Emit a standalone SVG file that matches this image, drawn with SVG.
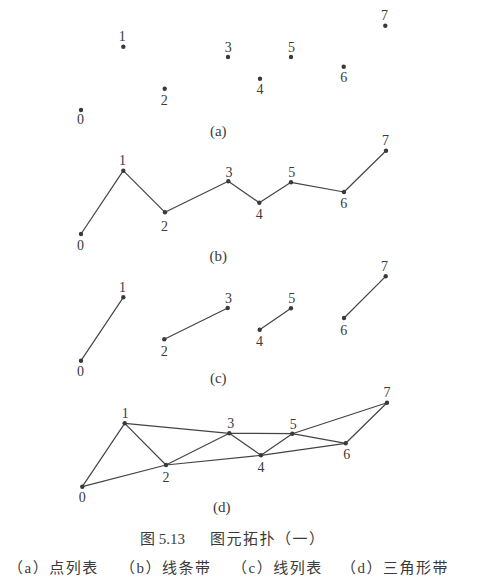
<svg xmlns="http://www.w3.org/2000/svg" width="481" height="588" viewBox="0 0 481 588">
<style>
.pt{fill:#3a3a3a}
.lb{font-family:"Liberation Serif","Noto Sans CJK SC",serif;font-size:14px;fill:#3a3a3a;text-anchor:middle}
.pl{font-family:"Liberation Serif","Noto Sans CJK SC",serif;font-size:15px;fill:#3a3a3a;text-anchor:middle}
.ln{stroke:#444;stroke-width:1.2;fill:none;stroke-linecap:round;stroke-linejoin:round}
.cap{font-family:"Liberation Serif","Noto Sans CJK SC",serif;font-size:15px;fill:#3a3a3a}
</style>
<rect width="481" height="588" fill="#fff"/>

<g id="connectors">
  <g id="conn-b">
    <polyline class="ln" points="81,234 123.3,170.7 165,212.3 228.3,181.3 259.3,202.7 291,182.3 344,192 386,150.7"/>
  </g>
  <g id="conn-c">
    <line class="ln" x1="81" y1="360.7" x2="123.3" y2="297.3"/>
    <line class="ln" x1="164.3" y1="339.3" x2="227.7" y2="308"/>
    <line class="ln" x1="259.7" y1="329.7" x2="291" y2="308.3"/>
    <line class="ln" x1="344" y1="318" x2="385.7" y2="276.3"/>
  </g>
  <g id="conn-d">
    <line class="ln" x1="82.3" y1="486.7" x2="124.7" y2="423.3"/>
    <line class="ln" x1="124.7" y1="423.3" x2="166" y2="465"/>
    <line class="ln" x1="82.3" y1="486.7" x2="166" y2="465"/>
    <line class="ln" x1="124.7" y1="423.3" x2="229.3" y2="433.3"/>
    <line class="ln" x1="166" y1="465" x2="229.3" y2="433.3"/>
    <line class="ln" x1="166" y1="465" x2="261" y2="455.3"/>
    <line class="ln" x1="229.3" y1="433.3" x2="261" y2="455.3"/>
    <line class="ln" x1="229.3" y1="433.3" x2="292.3" y2="433.7"/>
    <line class="ln" x1="261" y1="455.3" x2="292.3" y2="433.7"/>
    <line class="ln" x1="261" y1="455.3" x2="345.7" y2="443.3"/>
    <line class="ln" x1="292.3" y1="433.7" x2="345.7" y2="443.3"/>
    <line class="ln" x1="292.3" y1="433.7" x2="387" y2="402.7"/>
    <line class="ln" x1="345.7" y1="443.3" x2="387" y2="402.7"/>
  </g>
</g>

<!-- Panel (a) -->
<g id="a-p0"><circle class="pt" cx="81" cy="110" r="2.2"/><text class="lb" x="80.5" y="124">0</text></g>
<g id="a-p1"><circle class="pt" cx="123.3" cy="46.7" r="2.2"/><text class="lb" x="122.3" y="40.8">1</text></g>
<g id="a-p2"><circle class="pt" cx="164.7" cy="88.7" r="2.2"/><text class="lb" x="164.2" y="104.6">2</text></g>
<g id="a-p3"><circle class="pt" cx="228" cy="57" r="2.2"/><text class="lb" x="228.3" y="51.6">3</text></g>
<g id="a-p4"><circle class="pt" cx="260" cy="78.7" r="2.2"/><text class="lb" x="260" y="94">4</text></g>
<g id="a-p5"><circle class="pt" cx="291" cy="57" r="2.2"/><text class="lb" x="291.5" y="51.6">5</text></g>
<g id="a-p6"><circle class="pt" cx="343.7" cy="66.7" r="2.2"/><text class="lb" x="343.7" y="82">6</text></g>
<g id="a-p7"><circle class="pt" cx="385.3" cy="25.7" r="2.2"/><text class="lb" x="384.6" y="19.6">7</text></g>
<text class="pl" x="218.3" y="135.5">(a)</text>

<!-- Panel (b) -->
<g id="b-p0"><circle class="pt" cx="81" cy="234" r="2.2"/><text class="lb" x="80.5" y="250">0</text></g>
<g id="b-p1"><circle class="pt" cx="123.3" cy="170.7" r="2.2"/><text class="lb" x="122.5" y="165.3">1</text></g>
<g id="b-p2"><circle class="pt" cx="165" cy="212.3" r="2.2"/><text class="lb" x="164.4" y="230.6">2</text></g>
<g id="b-p3"><circle class="pt" cx="228.3" cy="181.3" r="2.2"/><text class="lb" x="229" y="176.6">3</text></g>
<g id="b-p4"><circle class="pt" cx="259.3" cy="202.7" r="2.2"/><text class="lb" x="259.3" y="219.3">4</text></g>
<g id="b-p5"><circle class="pt" cx="291" cy="182.3" r="2.2"/><text class="lb" x="291.7" y="177.3">5</text></g>
<g id="b-p6"><circle class="pt" cx="344" cy="192" r="2.2"/><text class="lb" x="343.7" y="208">6</text></g>
<g id="b-p7"><circle class="pt" cx="386" cy="150.7" r="2.2"/><text class="lb" x="385.5" y="144.6">7</text></g>
<text class="pl" x="218.3" y="261">(b)</text>

<!-- Panel (c) -->
<g id="c-p0"><circle class="pt" cx="81" cy="360.7" r="2.2"/><text class="lb" x="80.4" y="376.3">0</text></g>
<g id="c-p1"><circle class="pt" cx="123.3" cy="297.3" r="2.2"/><text class="lb" x="122.4" y="292">1</text></g>
<g id="c-p2"><circle class="pt" cx="164.3" cy="339.3" r="2.2"/><text class="lb" x="164.3" y="355.6">2</text></g>
<g id="c-p3"><circle class="pt" cx="227.7" cy="308" r="2.2"/><text class="lb" x="228.4" y="303">3</text></g>
<g id="c-p4"><circle class="pt" cx="259.7" cy="329.7" r="2.2"/><text class="lb" x="259.4" y="345.6">4</text></g>
<g id="c-p5"><circle class="pt" cx="291" cy="308.3" r="2.2"/><text class="lb" x="291.7" y="303">5</text></g>
<g id="c-p6"><circle class="pt" cx="344" cy="318" r="2.2"/><text class="lb" x="343.7" y="334.6">6</text></g>
<g id="c-p7"><circle class="pt" cx="385.7" cy="276.3" r="2.2"/><text class="lb" x="384.4" y="271.3">7</text></g>
<text class="pl" x="218.3" y="383">(c)</text>

<!-- Panel (d) -->
<g id="d-p0"><circle class="pt" cx="82.3" cy="486.7" r="2.2"/><text class="lb" x="82.3" y="501.9">0</text></g>
<g id="d-p1"><circle class="pt" cx="124.7" cy="423.3" r="2.2"/><text class="lb" x="125.3" y="417.9">1</text></g>
<g id="d-p2"><circle class="pt" cx="166" cy="465" r="2.2"/><text class="lb" x="166" y="481.9">2</text></g>
<g id="d-p3"><circle class="pt" cx="229.3" cy="433.3" r="2.2"/><text class="lb" x="230.7" y="427.9">3</text></g>
<g id="d-p4"><circle class="pt" cx="261" cy="455.3" r="2.2"/><text class="lb" x="261" y="471.9">4</text></g>
<g id="d-p5"><circle class="pt" cx="292.3" cy="433.7" r="2.2"/><text class="lb" x="293.3" y="428.6">5</text></g>
<g id="d-p6"><circle class="pt" cx="345.7" cy="443.3" r="2.2"/><text class="lb" x="346.7" y="458.9">6</text></g>
<g id="d-p7"><circle class="pt" cx="387" cy="402.7" r="2.2"/><text class="lb" x="387" y="397.3">7</text></g>
<text class="pl" x="221.7" y="512.3">(d)</text>

<!-- Caption -->
<g id="caption">
  <text class="cap" x="140" y="543.5">图 5.13</text>
  <text class="cap" x="210" y="543.5" letter-spacing="1.5">图元拓扑（一）</text>
  <text class="cap" x="8" y="572.5" letter-spacing="1.5">（a）点列表</text>
  <text class="cap" x="120" y="572.5" letter-spacing="1.5">（b）线条带</text>
  <text class="cap" x="232" y="572.5" letter-spacing="1.5">（c）线列表</text>
  <text class="cap" x="341" y="572.5" letter-spacing="1.5">（d）三角形带</text>
</g>
</svg>
